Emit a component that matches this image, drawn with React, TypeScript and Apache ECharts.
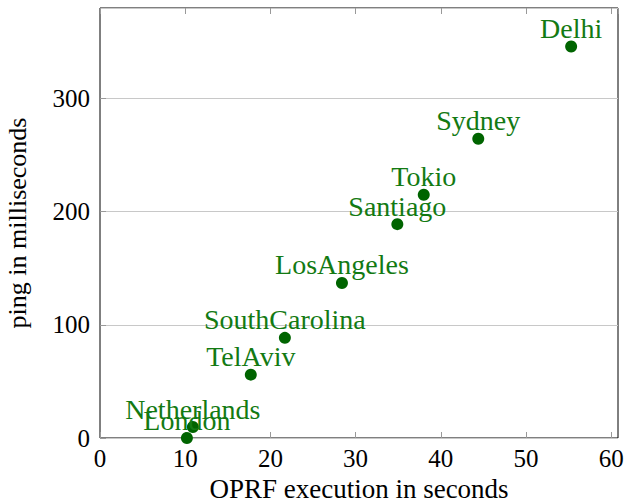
import React, { useEffect, useRef } from "react";
import * as echarts from "echarts";

const cities = ["Delhi", "Sydney", "Tokio", "Santiago", "LosAngeles", "SouthCarolina", "TelAviv", "Netherlands", "London"];
const oprfSeconds = [55.3, 44.4, 38.0, 34.9, 28.4, 21.7, 17.7, 10.9, 10.2];
const pingMs = [346, 264.5, 215, 189, 137, 88.5, 56, 9.7, 0];
const xTicks = [0, 10, 20, 30, 40, 50, 60];
const yTicks = [0, 100, 200, 300];

const FONT = "'Liberation Serif', 'Times New Roman', serif";

export default function App() {
  const ref = useRef<HTMLDivElement>(null);
  useEffect(() => {
    if (!ref.current) return;
    const chart = echarts.init(ref.current, undefined, { renderer: "svg" });
    const data = cities.map((c, i) => ({ value: [oprfSeconds[i], pingMs[i]], name: c }));
    const tickStyle = { show: true, inside: true, length: 6, lineStyle: { color: "#999", width: 1 } };
    chart.setOption({
      animation: false,
      backgroundColor: "#fff",
      grid: {
        left: 100, top: 8, right: 8, bottom: 65,
        show: true, borderColor: "#000", borderWidth: 1,
        containLabel: false, outerBoundsMode: "none",
      },
      xAxis: [
        {
          type: "value",
          min: xTicks[0],
          max: 60.8,
          interval: 10,
          position: "bottom",
          name: "OPRF execution in seconds",
          nameLocation: "middle",
          nameGap: 35,
          nameTextStyle: { fontFamily: FONT, fontSize: 27, color: "#000" },
          axisLine: { show: false },
          axisTick: tickStyle,
          axisLabel: { fontFamily: FONT, fontSize: 25, color: "#000", margin: 8, showMaxLabel: false },
          splitLine: { show: false },
        },
        {
          type: "value",
          min: xTicks[0],
          max: 60.8,
          interval: 10,
          position: "top",
          axisLine: { show: false },
          axisTick: tickStyle,
          axisLabel: { show: false },
          splitLine: { show: false },
        },
      ],
      yAxis: {
        type: "value",
        min: yTicks[0],
        max: 380,
        interval: 100,
        name: "ping in milliseconds",
        nameLocation: "middle",
        nameGap: 70,
        nameTextStyle: { fontFamily: FONT, fontSize: 26, color: "#000" },
        axisLine: { show: false },
        axisTick: tickStyle,
        axisLabel: { fontFamily: FONT, fontSize: 25, color: "#000", margin: 10, showMaxLabel: false },
        splitLine: { show: true, lineStyle: { color: "#c8c8c8", width: 1 } },
      },
      series: [
        {
          type: "scatter",
          xAxisIndex: 0,
          data,
          symbol: "circle",
          symbolSize: 12,
          itemStyle: { color: "#006400", opacity: 1 },
          label: {
            show: true,
            position: "top",
            distance: -2,
            formatter: (p: any) => p.name,
            fontFamily: FONT,
            fontSize: 28,
            color: "#137a13",
          },
          z: 3,
        },
      ],
    });
    return () => chart.dispose();
  }, []);
  return <div ref={ref} style={{ width: 626, height: 503, position: "absolute", left: 0, top: 0 }} />;
}
